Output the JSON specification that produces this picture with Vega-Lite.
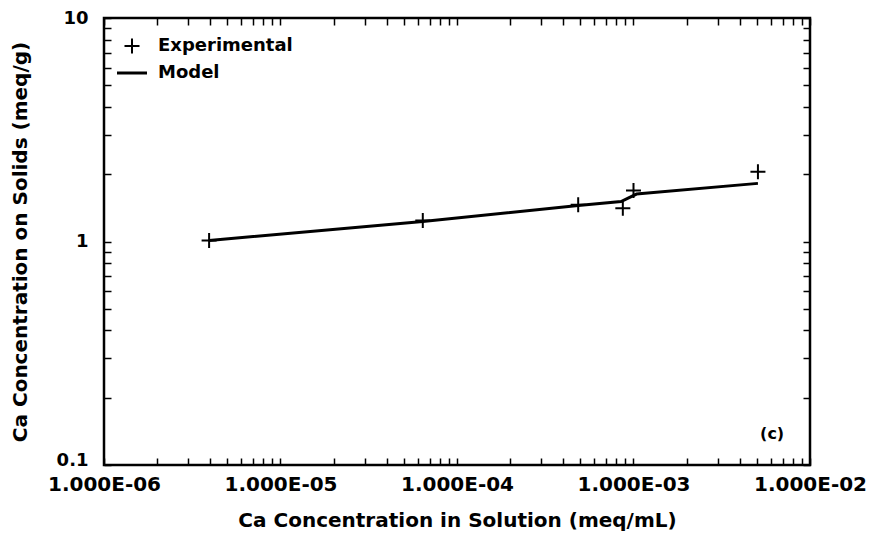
{
  "$schema": "https://vega.github.io/schema/vega-lite/v6.json",
  "width": 706,
  "height": 447,
  "autosize": "none",
  "padding": {"left": 104, "top": 18, "right": 68, "bottom": 82},
  "background": "white",
  "config": {
    "font": "DejaVu Sans",
    "view": {"stroke": "black", "strokeWidth": 2.5},
    "axis": {
      "grid": false,
      "domain": false,
      "tickColor": "black",
      "tickWidth": 1.5,
      "labelColor": "black",
      "titleColor": "black",
      "labelFont": "DejaVu Sans",
      "titleFont": "DejaVu Sans",
      "labelFontWeight": "bold",
      "titleFontWeight": "bold",
      "labelFontSize": 20,
      "titleFontSize": 20
    }
  },
  "datasets": {
    "exp": [
      {"x": 3.94e-6, "y": 1.01, "series": "Experimental"},
      {"x": 6.4e-5, "y": 1.24, "series": "Experimental"},
      {"x": 4.86e-4, "y": 1.46, "series": "Experimental"},
      {"x": 8.7e-4, "y": 1.41, "series": "Experimental"},
      {"x": 1.0e-3, "y": 1.69, "series": "Experimental"},
      {"x": 5.07e-3, "y": 2.05, "series": "Experimental"}
    ],
    "model": [
      {"x": 3.94e-6, "y": 1.01, "series": "Model"},
      {"x": 6.4e-5, "y": 1.23, "series": "Model"},
      {"x": 4.86e-4, "y": 1.45, "series": "Model"},
      {"x": 8.5e-4, "y": 1.51, "series": "Model"},
      {"x": 1.04e-3, "y": 1.63, "series": "Model"},
      {"x": 5.07e-3, "y": 1.82, "series": "Model"}
    ],
    "note": [{"x": 6.1e-3, "y": 0.138, "label": "(c)"}]
  },
  "resolve": {"axis": {"x": "independent", "y": "independent"}},
  "layer": [
    {
      "data": {"name": "model"},
      "mark": {"type": "line", "strokeWidth": 3},
      "encoding": {
        "x": {
          "field": "x", "type": "quantitative",
          "scale": {"type": "log", "domain": [1e-6, 1e-2]},
          "axis": {
            "orient": "bottom",
            "values": [1e-6,2e-6,3e-6,4e-6,5e-6,6e-6,7e-6,8e-6,9e-6,1e-5,2e-5,3e-5,4e-5,5e-5,6e-5,7e-5,8e-5,9e-5,1e-4,2e-4,3e-4,4e-4,5e-4,6e-4,7e-4,8e-4,9e-4,1e-3,2e-3,3e-3,4e-3,5e-3,6e-3,7e-3,8e-3,9e-3,1e-2],
            "labelExpr": "datum.value==1e-6?'1.000E-06':datum.value==1e-5?'1.000E-05':datum.value==1e-4?'1.000E-04':datum.value==1e-3?'1.000E-03':datum.value==1e-2?'1.000E-02':''",
            "tickSize": -7,
            "labelPadding": 16,
            "labelFlush": false,
            "labelOverlap": false,
            "title": "Ca Concentration in Solution (meq/mL)",
            "titlePadding": 16
          }
        },
        "y": {
          "field": "y", "type": "quantitative",
          "scale": {"type": "log", "domain": [0.1, 10]},
          "axis": {
            "orient": "left",
            "values": [0.1,0.2,0.3,0.4,0.5,0.6,0.7,0.8,0.9,1,2,3,4,5,6,7,8,9,10],
            "labelExpr": "datum.value==10?'10':datum.value==1?'1':datum.value==0.1?'0.1':''",
            "tickSize": -7,
            "labelPadding": 23,
            "labelFontSize": 18,
            "labelBaseline": {"condition": {"test": "datum.value==0.1", "value": "alphabetic"}, "value": "middle"},
            "labelOverlap": false,
            "labelFlush": false,
            "title": "Ca Concentration on Solids (meq/g)",
            "titlePadding": 26
          }
        },
        "color": {
          "field": "series", "type": "nominal",
          "scale": {"domain": ["Experimental", "Model"], "range": ["black", "black"]},
          "legend": {
            "orient": "top-left",
            "offset": 12,
            "padding": 7,
            "title": null,
            "symbolSize": 225,
            "symbolStrokeWidth": 2.5,
            "labelFont": "DejaVu Sans",
            "labelFontWeight": "bold",
            "labelFontSize": 18,
            "labelColor": "black",
            "labelOffset": 17,
            "rowPadding": 6,
            "encode": {
              "symbols": {
                "update": {
                  "shape": {"signal": "datum.value=='Model' ? 'M-2,0H2' : 'M-1,0H1M0,-1V1'"},
                  "fill": {"value": "transparent"},
                  "stroke": {"value": "black"},
                  "strokeWidth": {"signal": "datum.value=='Model' ? 3 : 2"}
                }
              }
            }
          }
        }
      }
    },
    {
      "data": {"name": "exp"},
      "mark": {"type": "point", "shape": "M-1,0H1M0,-1V1", "size": 225, "strokeWidth": 2, "filled": false, "opacity": 1},
      "encoding": {
        "x": {
          "field": "x", "type": "quantitative",
          "scale": {"type": "log", "domain": [1e-6, 1e-2]},
          "axis": {
            "orient": "top",
            "values": [1e-6,2e-6,3e-6,4e-6,5e-6,6e-6,7e-6,8e-6,9e-6,1e-5,2e-5,3e-5,4e-5,5e-5,6e-5,7e-5,8e-5,9e-5,1e-4,2e-4,3e-4,4e-4,5e-4,6e-4,7e-4,8e-4,9e-4,1e-3,2e-3,3e-3,4e-3,5e-3,6e-3,7e-3,8e-3,9e-3,1e-2],
            "labels": false,
            "tickSize": -7,
            "title": null
          }
        },
        "y": {
          "field": "y", "type": "quantitative",
          "scale": {"type": "log", "domain": [0.1, 10]},
          "axis": {
            "orient": "right",
            "values": [0.1,0.2,0.3,0.4,0.5,0.6,0.7,0.8,0.9,1,2,3,4,5,6,7,8,9,10],
            "labels": false,
            "tickSize": -7,
            "title": null
          }
        },
        "color": {"field": "series", "type": "nominal"}
      }
    },
    {
      "data": {"name": "note"},
      "mark": {"type": "text", "font": "DejaVu Sans", "fontWeight": "bold", "fontSize": 16, "color": "black"},
      "encoding": {
        "x": {"field": "x", "type": "quantitative", "scale": {"type": "log", "domain": [1e-6, 1e-2]}, "axis": null},
        "y": {"field": "y", "type": "quantitative", "scale": {"type": "log", "domain": [0.1, 10]}, "axis": null},
        "text": {"field": "label"}
      }
    }
  ]
}
